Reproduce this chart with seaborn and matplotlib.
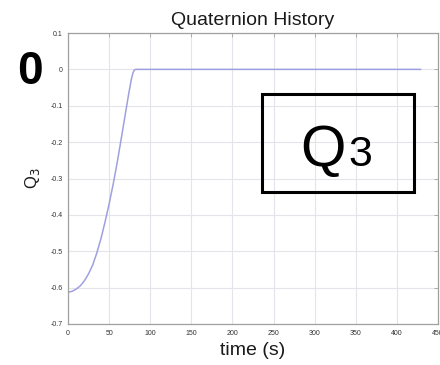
import matplotlib
matplotlib.use("Agg")
import matplotlib.pyplot as plt
from matplotlib.patches import Rectangle
import seaborn as sns
import pandas as pd

# Q3 component of the attitude quaternion over time
time_s = [0, 5, 10, 15, 20, 25, 30, 35, 40, 45, 50, 55, 60, 65, 70, 74, 77, 79,
          80.5, 82, 150, 250, 350, 429]
q3 = [-0.613, -0.610, -0.604, -0.595, -0.581, -0.562, -0.538, -0.505, -0.466,
      -0.420, -0.370, -0.315, -0.254, -0.187, -0.119, -0.065, -0.028, -0.010,
      -0.002, 0.0, 0.0, 0.0, 0.0, 0.0]

x_ticks = [0, 50, 100, 150, 200, 250, 300, 350, 400, 450]
y_ticks = [0.1, 0, -0.1, -0.2, -0.3, -0.4, -0.5, -0.6, -0.7]
y_tick_labels = ["0.1", "0", "-0.1", "-0.2", "-0.3", "-0.4", "-0.5", "-0.6", "-0.7"]

sns.set_style("white")
plt.rcParams["font.family"] = ["Liberation Sans", "DejaVu Sans"]

df = pd.DataFrame({"time": time_s, "q3": q3})

fig = plt.figure(figsize=(4.4, 3.65), dpi=100)
ax = fig.add_axes([68 / 440, 1 - 324 / 365, 370 / 440, 291 / 365])

sns.lineplot(data=df, x="time", y="q3", ax=ax, color="#a0a0e0", linewidth=1.1)

ax.set_xlim(0, 450)
ax.set_ylim(-0.7, 0.1)
ax.set_xticks(x_ticks)
ax.set_xticklabels([str(v) for v in x_ticks])
ax.set_yticks(y_ticks)
ax.set_yticklabels(y_tick_labels)

ax.grid(True, color="#e4e4ea", linewidth=0.8)
ax.set_axisbelow(True)
for side in ["left", "right", "top", "bottom"]:
    ax.spines[side].set_visible(True)
    ax.spines[side].set_color("#a0a0a0")
    ax.spines[side].set_linewidth(0.9)

ax.tick_params(direction="in", length=3, width=0.6, color="#a0a0a0",
               labelsize=5, labelcolor="#333333", top=True, right=True, pad=4)

ax.set_title("Quaternion History", fontsize=14, color="#1a1a1a", pad=6)
ax.set_xlabel("time (s)", fontsize=14, color="#1a1a1a", labelpad=4)
ax.set_ylabel("Q$_3$", fontsize=12, color="#1a1a1a", labelpad=6)

# Slide annotations
fig.text(29.5 / 440, 1 - 72 / 365, "0", fontsize=33, fontweight="bold",
         ha="center", va="center", color="black")
fig.patches.append(Rectangle((262 / 440, 1 - 192 / 365), 152 / 440, 98 / 365,
                             transform=fig.transFigure, fill=False,
                             edgecolor="black", linewidth=2.2))
fig.text(300 / 440, 1 - 166 / 365, "Q", fontsize=42, ha="left", va="baseline",
         color="black")
fig.text(348 / 440, 1 - 166 / 365, "3", fontsize=31, ha="left", va="baseline",
         color="black")

fig.savefig("out.png", dpi=100)
